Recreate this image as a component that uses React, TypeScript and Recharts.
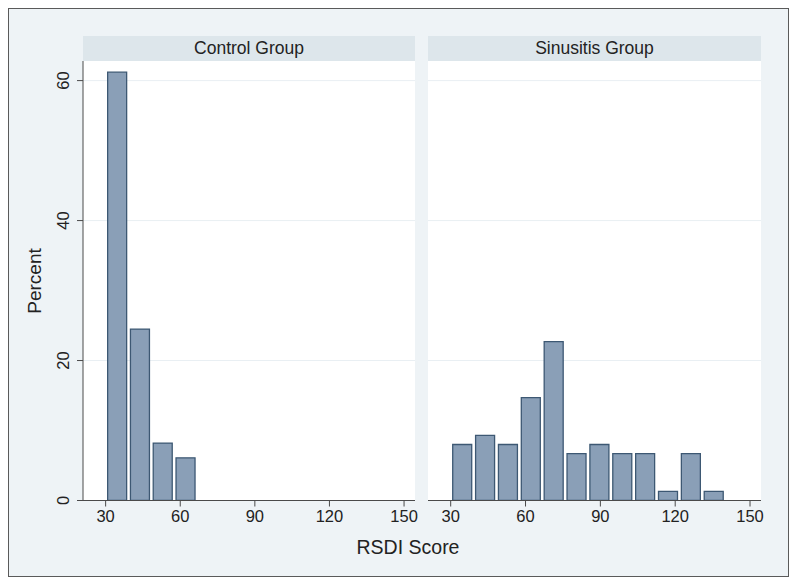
import React from 'react';
import { BarChart, Bar, XAxis, YAxis, CartesianGrid } from 'recharts';

const binLowerEdges = [30, 39.17, 48.33, 57.5, 66.67, 75.83, 85, 94.17, 103.33, 112.5, 121.67, 130.83];
const binWidth = 9.17;
const controlPercent = [61.2, 24.5, 8.2, 6.1];
const sinusitisPercent = [8.0, 9.3, 8.0, 14.7, 22.7, 6.7, 8.0, 6.7, 6.7, 1.3, 6.7, 1.3];
const xTicks = [30, 60, 90, 120, 150];
const yTicks = [0, 20, 40, 60];
const panelTitles = ['Control Group', 'Sinusitis Group'];
const xTitle = 'RSDI Score';
const yTitle = 'Percent';

const toRows = (vals: number[]) =>
  vals.map((v, i) => ({ mid: binLowerEdges[i] + binWidth / 2, pct: v }));

const controlData = toRows(controlPercent);
const sinusitisData = toRows(sinusitisPercent);

const FONT = '"Liberation Sans", Arial, Helvetica, sans-serif';
const BAR_FILL = '#8a9fb7';
const BAR_STROKE = '#3d5873';
const AXIS = '#4a4a4a';
const X_DOMAIN: [number, number] = [20.9, 154.4];
const Y_DOMAIN: [number, number] = [0, 62.8];

const YTick = (props: any) => {
  const { x, y, payload } = props;
  return (
    <text
      x={x}
      y={y}
      transform={`rotate(-90 ${x} ${y})`}
      textAnchor="middle"
      fontSize={16.5}
      fontFamily={FONT}
      fill="#222"
    >
      {payload.value}
    </text>
  );
};

const Header = ({ left, width, text }: { left: number; width: number; text: string }) => (
  <div
    style={{
      position: 'absolute',
      left,
      top: 36,
      width,
      height: 25,
      background: '#dde6eb',
      color: '#222',
      fontFamily: FONT,
      fontSize: 17.5,
      lineHeight: '25px',
      textAlign: 'center',
    }}
  >
    {text}
  </div>
);

export default function App() {
  return (
    <div style={{ position: 'absolute', left: 0, top: 0, width: 798, height: 586, background: '#fff' }}>
      <div
        style={{
          position: 'absolute',
          left: 8,
          top: 8,
          width: 779,
          height: 567,
          border: '1px solid #5a5a5a',
          background: '#eef3f6',
        }}
      />
      <Header left={83} width={332} text={panelTitles[0]} />
      <Header left={428} width={333} text={panelTitles[1]} />

      <div style={{ position: 'absolute', left: 0, top: 61 }}>
        <BarChart
          width={420}
          height={480}
          data={controlData}
          margin={{ top: 0, right: 5, bottom: 0, left: 0 }}
          barCategoryGap={2}
        >
          <CartesianGrid vertical={false} stroke="#e9eff3" fill="#ffffff" horizontalValues={[20, 40, 60]} />
          <XAxis
            type="number"
            dataKey="mid"
            domain={X_DOMAIN}
            allowDataOverflow
            ticks={xTicks}
            interval={0}
            tickSize={6}
            tickMargin={4}
            height={40.5}
            stroke={AXIS}
            tick={{ fontSize: 16.5, fontFamily: FONT, fill: '#222' }}
          />
          <YAxis
            type="number"
            domain={Y_DOMAIN}
            allowDataOverflow
            ticks={yTicks}
            interval={0}
            width={83}
            tickSize={6}
            tickMargin={8}
            stroke={AXIS}
            tick={<YTick />}
          />
          <Bar dataKey="pct" fill={BAR_FILL} stroke={BAR_STROKE} strokeWidth={1.3} isAnimationActive={false} />
        </BarChart>
      </div>

      <div style={{ position: 'absolute', left: 428, top: 61 }}>
        <BarChart
          width={363}
          height={480}
          data={sinusitisData}
          margin={{ top: 0, right: 30, bottom: 0, left: 0 }}
          barCategoryGap={2}
        >
          <CartesianGrid vertical={false} stroke="#e9eff3" fill="#ffffff" horizontalValues={[20, 40, 60]} />
          <XAxis
            type="number"
            dataKey="mid"
            domain={X_DOMAIN}
            allowDataOverflow
            ticks={xTicks}
            interval={0}
            tickSize={6}
            tickMargin={4}
            height={40.5}
            stroke={AXIS}
            tick={{ fontSize: 16.5, fontFamily: FONT, fill: '#222' }}
          />
          <YAxis type="number" domain={Y_DOMAIN} allowDataOverflow ticks={yTicks} hide />
          <Bar dataKey="pct" fill={BAR_FILL} stroke={BAR_STROKE} strokeWidth={1.3} isAnimationActive={false} />
        </BarChart>
      </div>

      <div
        style={{
          position: 'absolute',
          left: 35,
          top: 281,
          transform: 'translate(-50%, -50%) rotate(-90deg)',
          fontFamily: FONT,
          fontSize: 19,
          color: '#222',
          whiteSpace: 'nowrap',
        }}
      >
        {yTitle}
      </div>
      <div
        style={{
          position: 'absolute',
          left: 408,
          top: 547,
          transform: 'translate(-50%, -50%)',
          fontFamily: FONT,
          fontSize: 19.5,
          color: '#222',
          whiteSpace: 'nowrap',
        }}
      >
        {xTitle}
      </div>
    </div>
  );
}
